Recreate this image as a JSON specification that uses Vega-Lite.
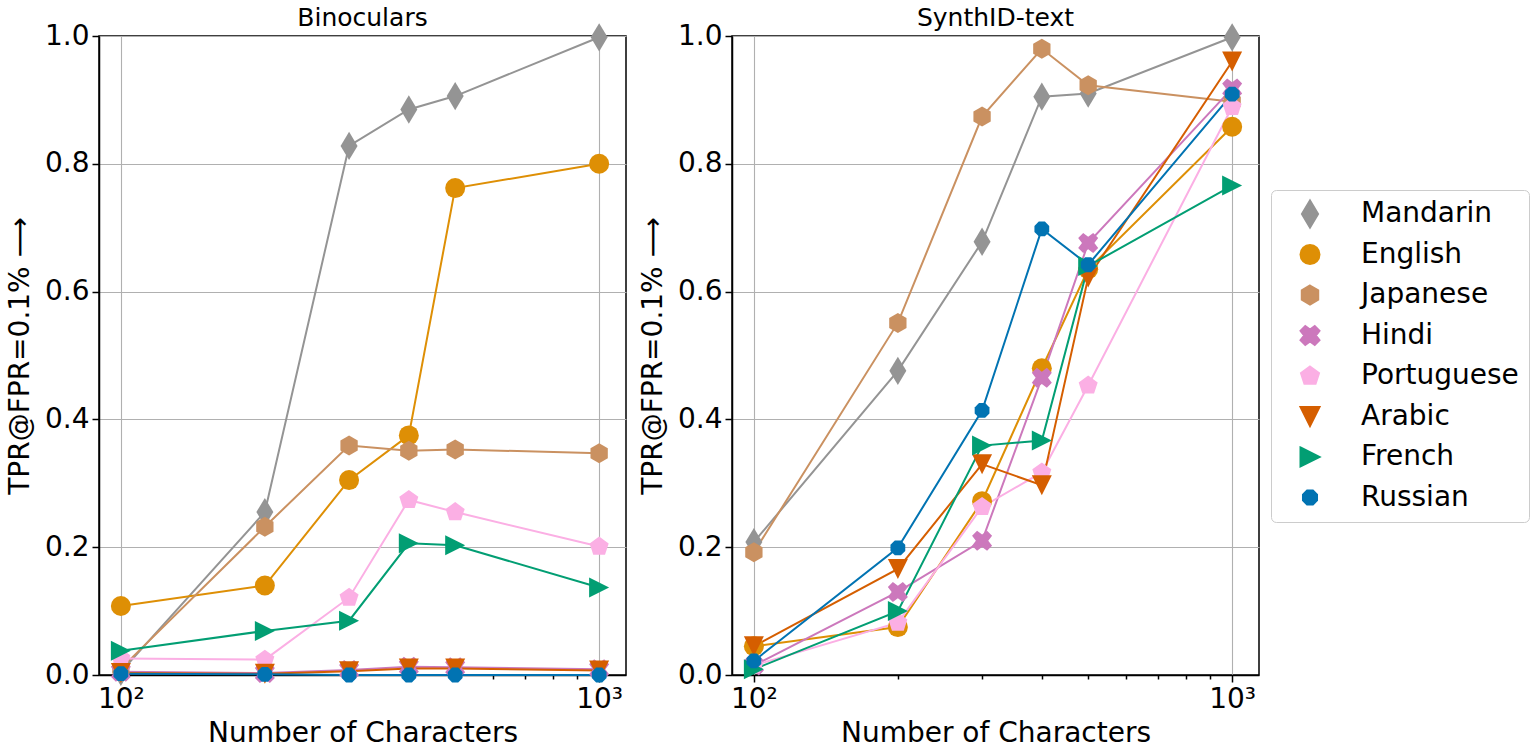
{
  "$schema": "https://vega.github.io/schema/vega-lite/v6.json",
  "background": "white",
  "padding": {"left": 5, "top": 5, "right": 5, "bottom": 5},
  "data": {"values": [
    {"panel": "Binoculars", "lang": "Mandarin", "n": 100, "tpr": 0.005},
    {"panel": "Binoculars", "lang": "Mandarin", "n": 200, "tpr": 0.255},
    {"panel": "Binoculars", "lang": "Mandarin", "n": 300, "tpr": 0.828},
    {"panel": "Binoculars", "lang": "Mandarin", "n": 400, "tpr": 0.885},
    {"panel": "Binoculars", "lang": "Mandarin", "n": 500, "tpr": 0.906},
    {"panel": "Binoculars", "lang": "Mandarin", "n": 1000, "tpr": 0.998},
    {"panel": "Binoculars", "lang": "English", "n": 100, "tpr": 0.108},
    {"panel": "Binoculars", "lang": "English", "n": 200, "tpr": 0.14},
    {"panel": "Binoculars", "lang": "English", "n": 300, "tpr": 0.305},
    {"panel": "Binoculars", "lang": "English", "n": 400, "tpr": 0.375},
    {"panel": "Binoculars", "lang": "English", "n": 500, "tpr": 0.762},
    {"panel": "Binoculars", "lang": "English", "n": 1000, "tpr": 0.8},
    {"panel": "Binoculars", "lang": "Japanese", "n": 100, "tpr": 0.01},
    {"panel": "Binoculars", "lang": "Japanese", "n": 200, "tpr": 0.232},
    {"panel": "Binoculars", "lang": "Japanese", "n": 300, "tpr": 0.359},
    {"panel": "Binoculars", "lang": "Japanese", "n": 400, "tpr": 0.351},
    {"panel": "Binoculars", "lang": "Japanese", "n": 500, "tpr": 0.353},
    {"panel": "Binoculars", "lang": "Japanese", "n": 1000, "tpr": 0.347},
    {"panel": "Binoculars", "lang": "Hindi", "n": 100, "tpr": 0.005},
    {"panel": "Binoculars", "lang": "Hindi", "n": 200, "tpr": 0.003},
    {"panel": "Binoculars", "lang": "Hindi", "n": 300, "tpr": 0.008},
    {"panel": "Binoculars", "lang": "Hindi", "n": 400, "tpr": 0.013},
    {"panel": "Binoculars", "lang": "Hindi", "n": 500, "tpr": 0.012},
    {"panel": "Binoculars", "lang": "Hindi", "n": 1000, "tpr": 0.009},
    {"panel": "Binoculars", "lang": "Portuguese", "n": 100, "tpr": 0.026},
    {"panel": "Binoculars", "lang": "Portuguese", "n": 200, "tpr": 0.024},
    {"panel": "Binoculars", "lang": "Portuguese", "n": 300, "tpr": 0.121},
    {"panel": "Binoculars", "lang": "Portuguese", "n": 400, "tpr": 0.274},
    {"panel": "Binoculars", "lang": "Portuguese", "n": 500, "tpr": 0.255},
    {"panel": "Binoculars", "lang": "Portuguese", "n": 1000, "tpr": 0.201},
    {"panel": "Binoculars", "lang": "Arabic", "n": 100, "tpr": 0.003},
    {"panel": "Binoculars", "lang": "Arabic", "n": 200, "tpr": 0.002},
    {"panel": "Binoculars", "lang": "Arabic", "n": 300, "tpr": 0.006},
    {"panel": "Binoculars", "lang": "Arabic", "n": 400, "tpr": 0.01},
    {"panel": "Binoculars", "lang": "Arabic", "n": 500, "tpr": 0.01},
    {"panel": "Binoculars", "lang": "Arabic", "n": 1000, "tpr": 0.007},
    {"panel": "Binoculars", "lang": "French", "n": 100, "tpr": 0.038},
    {"panel": "Binoculars", "lang": "French", "n": 200, "tpr": 0.069},
    {"panel": "Binoculars", "lang": "French", "n": 300, "tpr": 0.085},
    {"panel": "Binoculars", "lang": "French", "n": 400, "tpr": 0.206},
    {"panel": "Binoculars", "lang": "French", "n": 500, "tpr": 0.203},
    {"panel": "Binoculars", "lang": "French", "n": 1000, "tpr": 0.137},
    {"panel": "Binoculars", "lang": "Russian", "n": 100, "tpr": 0.002},
    {"panel": "Binoculars", "lang": "Russian", "n": 200, "tpr": 0.001},
    {"panel": "Binoculars", "lang": "Russian", "n": 300, "tpr": 0.0},
    {"panel": "Binoculars", "lang": "Russian", "n": 400, "tpr": 0.0},
    {"panel": "Binoculars", "lang": "Russian", "n": 500, "tpr": 0.0},
    {"panel": "Binoculars", "lang": "Russian", "n": 1000, "tpr": 0.0},
    {"panel": "SynthID-text", "lang": "Mandarin", "n": 100, "tpr": 0.208},
    {"panel": "SynthID-text", "lang": "Mandarin", "n": 200, "tpr": 0.476},
    {"panel": "SynthID-text", "lang": "Mandarin", "n": 300, "tpr": 0.678},
    {"panel": "SynthID-text", "lang": "Mandarin", "n": 400, "tpr": 0.905},
    {"panel": "SynthID-text", "lang": "Mandarin", "n": 500, "tpr": 0.91},
    {"panel": "SynthID-text", "lang": "Mandarin", "n": 1000, "tpr": 0.998},
    {"panel": "SynthID-text", "lang": "English", "n": 100, "tpr": 0.045},
    {"panel": "SynthID-text", "lang": "English", "n": 200, "tpr": 0.075},
    {"panel": "SynthID-text", "lang": "English", "n": 300, "tpr": 0.272},
    {"panel": "SynthID-text", "lang": "English", "n": 400, "tpr": 0.48},
    {"panel": "SynthID-text", "lang": "English", "n": 500, "tpr": 0.635},
    {"panel": "SynthID-text", "lang": "English", "n": 1000, "tpr": 0.858},
    {"panel": "SynthID-text", "lang": "Japanese", "n": 100, "tpr": 0.192},
    {"panel": "SynthID-text", "lang": "Japanese", "n": 200, "tpr": 0.551},
    {"panel": "SynthID-text", "lang": "Japanese", "n": 300, "tpr": 0.874},
    {"panel": "SynthID-text", "lang": "Japanese", "n": 400, "tpr": 0.98},
    {"panel": "SynthID-text", "lang": "Japanese", "n": 500, "tpr": 0.923},
    {"panel": "SynthID-text", "lang": "Japanese", "n": 1000, "tpr": 0.897},
    {"panel": "SynthID-text", "lang": "Hindi", "n": 100, "tpr": 0.015},
    {"panel": "SynthID-text", "lang": "Hindi", "n": 200, "tpr": 0.13},
    {"panel": "SynthID-text", "lang": "Hindi", "n": 300, "tpr": 0.21},
    {"panel": "SynthID-text", "lang": "Hindi", "n": 400, "tpr": 0.465},
    {"panel": "SynthID-text", "lang": "Hindi", "n": 500, "tpr": 0.676},
    {"panel": "SynthID-text", "lang": "Hindi", "n": 1000, "tpr": 0.918},
    {"panel": "SynthID-text", "lang": "Portuguese", "n": 100, "tpr": 0.015},
    {"panel": "SynthID-text", "lang": "Portuguese", "n": 200, "tpr": 0.082},
    {"panel": "SynthID-text", "lang": "Portuguese", "n": 300, "tpr": 0.263},
    {"panel": "SynthID-text", "lang": "Portuguese", "n": 400, "tpr": 0.317},
    {"panel": "SynthID-text", "lang": "Portuguese", "n": 500, "tpr": 0.453},
    {"panel": "SynthID-text", "lang": "Portuguese", "n": 1000, "tpr": 0.889},
    {"panel": "SynthID-text", "lang": "Arabic", "n": 100, "tpr": 0.045},
    {"panel": "SynthID-text", "lang": "Arabic", "n": 200, "tpr": 0.166},
    {"panel": "SynthID-text", "lang": "Arabic", "n": 300, "tpr": 0.33},
    {"panel": "SynthID-text", "lang": "Arabic", "n": 400, "tpr": 0.297},
    {"panel": "SynthID-text", "lang": "Arabic", "n": 500, "tpr": 0.622},
    {"panel": "SynthID-text", "lang": "Arabic", "n": 1000, "tpr": 0.96},
    {"panel": "SynthID-text", "lang": "French", "n": 100, "tpr": 0.009},
    {"panel": "SynthID-text", "lang": "French", "n": 200, "tpr": 0.1},
    {"panel": "SynthID-text", "lang": "French", "n": 300, "tpr": 0.359},
    {"panel": "SynthID-text", "lang": "French", "n": 400, "tpr": 0.367},
    {"panel": "SynthID-text", "lang": "French", "n": 500, "tpr": 0.64},
    {"panel": "SynthID-text", "lang": "French", "n": 1000, "tpr": 0.766},
    {"panel": "SynthID-text", "lang": "Russian", "n": 100, "tpr": 0.022},
    {"panel": "SynthID-text", "lang": "Russian", "n": 200, "tpr": 0.199},
    {"panel": "SynthID-text", "lang": "Russian", "n": 300, "tpr": 0.414},
    {"panel": "SynthID-text", "lang": "Russian", "n": 400, "tpr": 0.698},
    {"panel": "SynthID-text", "lang": "Russian", "n": 500, "tpr": 0.642},
    {"panel": "SynthID-text", "lang": "Russian", "n": 1000, "tpr": 0.909}
  ]},
  "spacing": 11,
  "hconcat": [
    {
      "title": "Binoculars",
      "width": 527,
      "height": 639,
      "transform": [{"filter": "datum.panel == 'Binoculars'"}],
      "encoding": {
        "x": {"field": "n", "type": "quantitative",
          "scale": {"type": "log", "domain": [90, 1138], "nice": false},
          "axis": {"title": "Number of Characters",
            "values": [100, 200, 300, 400, 500, 600, 700, 800, 900, 1000],
            "labelExpr": "datum.value == 100 ? '10²' : (datum.value == 1000 ? '10³' : '')",
            "labelOverlap": false, "labelFlush": false,
            "tickSize": {"condition": {"test": "datum.value == 100 || datum.value == 1000", "value": 7}, "value": 4},
            "gridOpacity": {"condition": {"test": "datum.value == 100 || datum.value == 1000", "value": 1}, "value": 0},
            "labelPadding": 3, "titlePadding": 6}},
        "y": {"field": "tpr", "type": "quantitative",
          "scale": {"domain": [0, 1], "nice": false, "zero": false},
          "axis": {"title": "TPR@FPR=0.1% ⟶", "values": [0, 0.2, 0.4, 0.6, 0.8, 1.0], "format": ".1f",
            "tickSize": 7, "labelPadding": 3, "titlePadding": 10}},
        "color": {"field": "lang", "type": "nominal",
          "scale": {"domain": ["Mandarin", "English", "Japanese", "Hindi", "Portuguese", "Arabic", "French", "Russian"],
            "range": ["#949494", "#DE8F05", "#CA9161", "#CC78BC", "#FBAFE4", "#D55E00", "#029E73", "#0173B2"]}}
      },
      "layer": [
        {"mark": {"type": "line", "strokeWidth": 2, "clip": false}, "encoding": {"detail": {"field": "lang"}}},
        {"mark": {"type": "point", "filled": true, "opacity": 1, "clip": false},
          "encoding": {
            "shape": {"field": "lang", "type": "nominal",
              "scale": {"domain": ["Mandarin", "English", "Japanese", "Hindi", "Portuguese", "Arabic", "French", "Russian"],
                "range": ["M0,-1.414L0.849,0L0,1.414L-0.849,0Z", "circle", "M0,-1L0.866,-0.5L0.866,0.5L0,1L-0.866,0.5L-0.866,-0.5Z", "M-0.5,-1L0,-0.62L0.5,-1L1,-0.5L0.62,0L1,0.5L0.5,1L0,0.62L-0.5,1L-1,0.5L-0.62,0L-1,-0.5Z", "M0,-1L0.951,-0.309L0.588,0.809L-0.588,0.809L-0.951,-0.309Z", "M-1,-1L1,-1L0,1Z", "M-1,-1L1,0L-1,1Z", "M0.739,0.306L0.306,0.739L-0.306,0.739L-0.739,0.306L-0.739,-0.306L-0.306,-0.739L0.306,-0.739L0.739,-0.306Z"]}},
            "size": {"value": 400}
          }}
      ]
    },
    {
      "title": "SynthID-text",
      "width": 527,
      "height": 639,
      "transform": [{"filter": "datum.panel == 'SynthID-text'"}],
      "encoding": {
        "x": {"field": "n", "type": "quantitative",
          "scale": {"type": "log", "domain": [90, 1138], "nice": false},
          "axis": {"title": "Number of Characters",
            "values": [100, 200, 300, 400, 500, 600, 700, 800, 900, 1000],
            "labelExpr": "datum.value == 100 ? '10²' : (datum.value == 1000 ? '10³' : '')",
            "labelOverlap": false, "labelFlush": false,
            "tickSize": {"condition": {"test": "datum.value == 100 || datum.value == 1000", "value": 7}, "value": 4},
            "gridOpacity": {"condition": {"test": "datum.value == 100 || datum.value == 1000", "value": 1}, "value": 0},
            "labelPadding": 3, "titlePadding": 6}},
        "y": {"field": "tpr", "type": "quantitative",
          "scale": {"domain": [0, 1], "nice": false, "zero": false},
          "axis": {"title": "TPR@FPR=0.1% ⟶", "values": [0, 0.2, 0.4, 0.6, 0.8, 1.0], "format": ".1f",
            "tickSize": 7, "labelPadding": 3, "titlePadding": 10}},
        "color": {"field": "lang", "type": "nominal",
          "scale": {"domain": ["Mandarin", "English", "Japanese", "Hindi", "Portuguese", "Arabic", "French", "Russian"],
            "range": ["#949494", "#DE8F05", "#CA9161", "#CC78BC", "#FBAFE4", "#D55E00", "#029E73", "#0173B2"]}}
      },
      "layer": [
        {"mark": {"type": "line", "strokeWidth": 2, "clip": false}, "encoding": {"detail": {"field": "lang"}}},
        {"mark": {"type": "point", "filled": true, "opacity": 1, "clip": false},
          "encoding": {
            "shape": {"field": "lang", "type": "nominal",
              "scale": {"domain": ["Mandarin", "English", "Japanese", "Hindi", "Portuguese", "Arabic", "French", "Russian"],
                "range": ["M0,-1.414L0.849,0L0,1.414L-0.849,0Z", "circle", "M0,-1L0.866,-0.5L0.866,0.5L0,1L-0.866,0.5L-0.866,-0.5Z", "M-0.5,-1L0,-0.62L0.5,-1L1,-0.5L0.62,0L1,0.5L0.5,1L0,0.62L-0.5,1L-1,0.5L-0.62,0L-1,-0.5Z", "M0,-1L0.951,-0.309L0.588,0.809L-0.588,0.809L-0.951,-0.309Z", "M-1,-1L1,-1L0,1Z", "M-1,-1L1,0L-1,1Z", "M0.739,0.306L0.306,0.739L-0.306,0.739L-0.739,0.306L-0.739,-0.306L-0.306,-0.739L0.306,-0.739L0.739,-0.306Z"]}},
            "size": {"value": 400}
          }}
      ]
    }
  ],
  "resolve": {"scale": {"color": "shared", "shape": "shared"}},
  "config": {
    "font": "DejaVu Sans",
    "view": {"stroke": "black", "strokeWidth": 1.5},
    "title": {"font": "DejaVu Sans", "fontSize": 25, "fontWeight": "normal", "color": "black", "offset": -9},
    "axis": {"labelFont": "DejaVu Sans", "titleFont": "DejaVu Sans", "labelFontSize": 28, "titleFontSize": 28,
      "titleFontWeight": "normal", "labelColor": "black", "titleColor": "black", "domainColor": "black",
      "tickColor": "black", "gridColor": "#b0b0b0", "gridWidth": 1.1, "domainWidth": 1.5, "tickWidth": 1.5},
    "legend": {
      "orient": "none", "legendX": 1172, "legendY": 154,
      "title": null, "labelFont": "DejaVu Sans", "labelFontSize": 28, "labelColor": "black",
      "strokeColor": "#cccccc", "fillColor": "white", "cornerRadius": 5, "padding": 10,
      "gridAlign": "all", "rowPadding": 8.5, "symbolSize": 361, "symbolOffset": 15, "labelOffset": 37,
      "symbolOpacity": 1, "symbolStrokeWidth": 2
    }
  }
}
